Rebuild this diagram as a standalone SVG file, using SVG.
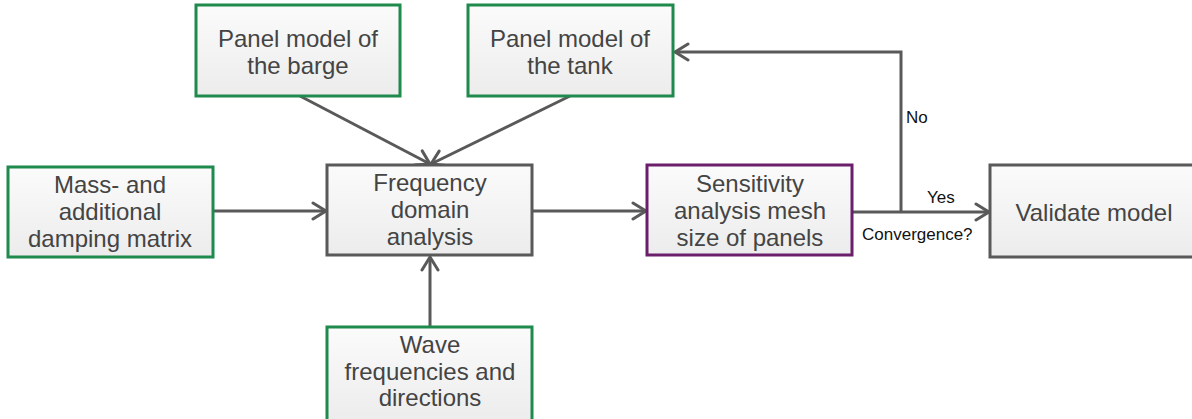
<svg xmlns="http://www.w3.org/2000/svg" width="1192" height="419" viewBox="0 0 1192 419">
  <defs>
    <linearGradient id="boxFill" x1="0" y1="0" x2="0" y2="1">
      <stop offset="0" stop-color="#fbfbfb"/>
      <stop offset="1" stop-color="#ececec"/>
    </linearGradient>
    <marker id="chev" viewBox="0 0 20 20" refX="17" refY="10" markerWidth="20" markerHeight="20" markerUnits="userSpaceOnUse" orient="auto">
      <path d="M4,2 L17,10 L4,18" fill="none" stroke="#595959" stroke-width="3" stroke-linecap="round" stroke-linejoin="round"/>
    </marker>
  </defs>
  <style>
    .box { fill: url(#boxFill); stroke-width: 3; }
    .green { stroke: #1e8a4c; }
    .gray { stroke: #595959; }
    .purple { stroke: #6b1f6b; }
    .t { font-family: "Liberation Sans", Arial, sans-serif; font-size: 24px; fill: #444444; text-anchor: middle; }
    .lbl { font-family: "Liberation Sans", Arial, sans-serif; font-size: 17px; fill: #111111; }
    .conn { fill: none; stroke: #595959; stroke-width: 3; marker-end: url(#chev); }
  </style>

  <g id="connectors">
    <line class="conn" x1="213" y1="211" x2="326" y2="211"/>
    <line class="conn" x1="532" y1="211" x2="646" y2="211"/>
    <line class="conn" x1="852" y1="212" x2="989" y2="212"/>
    <polyline class="conn" points="901,212 901,52 675,52"/>
    <line class="conn" x1="300" y1="96" x2="430" y2="164"/>
    <line class="conn" x1="570" y1="96" x2="431" y2="164"/>
    <line class="conn" x1="430" y1="327" x2="430" y2="257"/>
    <text class="lbl" x="906" y="123">No</text>
    <text class="lbl" x="927" y="203">Yes</text>
    <text class="lbl" x="862" y="240">Convergence?</text>
  </g>

  <g id="barge">
    <rect class="box green" x="196" y="5" width="204" height="91"/>
    <text class="t" x="298" y="47">Panel model of</text>
    <text class="t" x="298" y="74">the barge</text>
  </g>

  <g id="tank">
    <rect class="box green" x="468" y="5" width="205" height="91"/>
    <text class="t" x="570" y="47">Panel model of</text>
    <text class="t" x="570" y="74">the tank</text>
  </g>

  <g id="mass">
    <rect class="box green" x="8" y="167" width="205" height="90"/>
    <text class="t" x="110" y="193">Mass- and</text>
    <text class="t" x="110" y="220">additional</text>
    <text class="t" x="110" y="247">damping matrix</text>
  </g>

  <g id="frequency">
    <rect class="box gray" x="327" y="165" width="205" height="90"/>
    <text class="t" x="430" y="191">Frequency</text>
    <text class="t" x="430" y="218">domain</text>
    <text class="t" x="430" y="245">analysis</text>
  </g>

  <g id="sensitivity">
    <rect class="box purple" x="647" y="165" width="205" height="90"/>
    <text class="t" x="750" y="192">Sensitivity</text>
    <text class="t" x="750" y="219">analysis mesh</text>
    <text class="t" x="750" y="246">size of panels</text>
  </g>

  <g id="validate">
    <rect class="box gray" x="990" y="165" width="205" height="92"/>
    <text class="t" x="1094" y="221">Validate model</text>
  </g>

  <g id="wave">
    <rect class="box green" x="327" y="327" width="205" height="95"/>
    <text class="t" x="430" y="353">Wave</text>
    <text class="t" x="430" y="380">frequencies and</text>
    <text class="t" x="430" y="406">directions</text>
  </g>
</svg>
